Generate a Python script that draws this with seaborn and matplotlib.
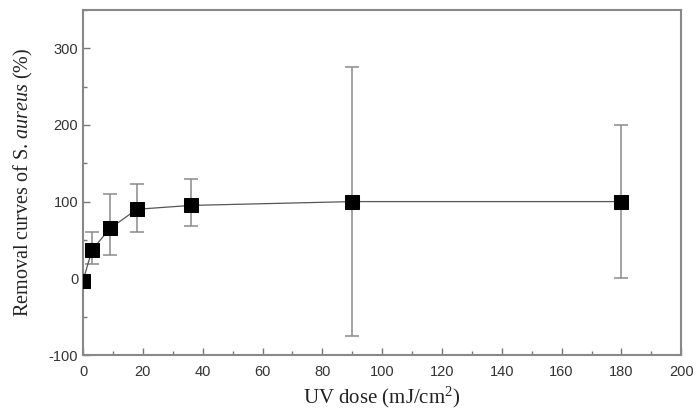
import numpy as np
import pandas as pd
import seaborn as sns
import matplotlib.pyplot as plt
from matplotlib.ticker import MultipleLocator

sns.set_style("white")
plt.rcParams["font.family"] = ["Liberation Sans", "DejaVu Sans"]
plt.rcParams["mathtext.fontset"] = "custom"
plt.rcParams["mathtext.rm"] = "Liberation Serif"
plt.rcParams["mathtext.it"] = "Liberation Serif:italic"
plt.rcParams["axes.unicode_minus"] = False

# data
uv_dose = [0, 3, 9, 18, 36, 90, 180]
removal = [-3, 37, 65, 90, 95, 100, 100]
err_low = [0, 19, 35, 30, 27, 175, 100]
err_high = [0, 23, 45, 33, 35, 176, 100]

df = pd.DataFrame({"dose": uv_dose, "removal": removal})

fig = plt.figure(figsize=(6.98, 4.09), dpi=100)
ax = fig.add_axes([0.119, 0.132, 0.857, 0.844])

ax.errorbar(df["dose"], df["removal"], yerr=[err_low, err_high], fmt="none",
            ecolor="#8a8a8a", elinewidth=1.1, capsize=5, capthick=1.1, zorder=2)
sns.lineplot(data=df, x="dose", y="removal", ax=ax, color="#555555",
             linewidth=0.9, marker="s", markersize=10, markeredgecolor="black",
             markerfacecolor="black", zorder=3)

ax.set_xlim(0, 200)
ax.set_ylim(-100, 350)
ax.set_xticks(np.arange(0, 201, 20))
ax.set_yticks([-100, 0, 100, 200, 300])
ax.xaxis.set_minor_locator(MultipleLocator(10))
ax.yaxis.set_minor_locator(MultipleLocator(50))
ax.tick_params(axis="both", which="both", bottom=True, left=True)
ax.tick_params(axis="both", which="major", direction="in", length=5, width=1,
               color="#777777", labelsize=10.5, labelcolor="#333333")
ax.tick_params(axis="both", which="minor", direction="in", length=3, width=1,
               color="#777777")
ax.tick_params(axis="x", pad=7)
for s in ax.spines.values():
    s.set_color("#888888")
    s.set_linewidth(1.5)

ax.set_xlabel("UV dose (mJ/cm$^2$)", fontfamily="Liberation Serif", fontsize=15,
              color="#222222", labelpad=4)
ax.set_ylabel(r"Removal curves of S. $\it{aureus}$ (%)", fontfamily="Liberation Serif",
              fontsize=14.5, color="#222222", labelpad=10)

fig.savefig("out.png", dpi=100)
